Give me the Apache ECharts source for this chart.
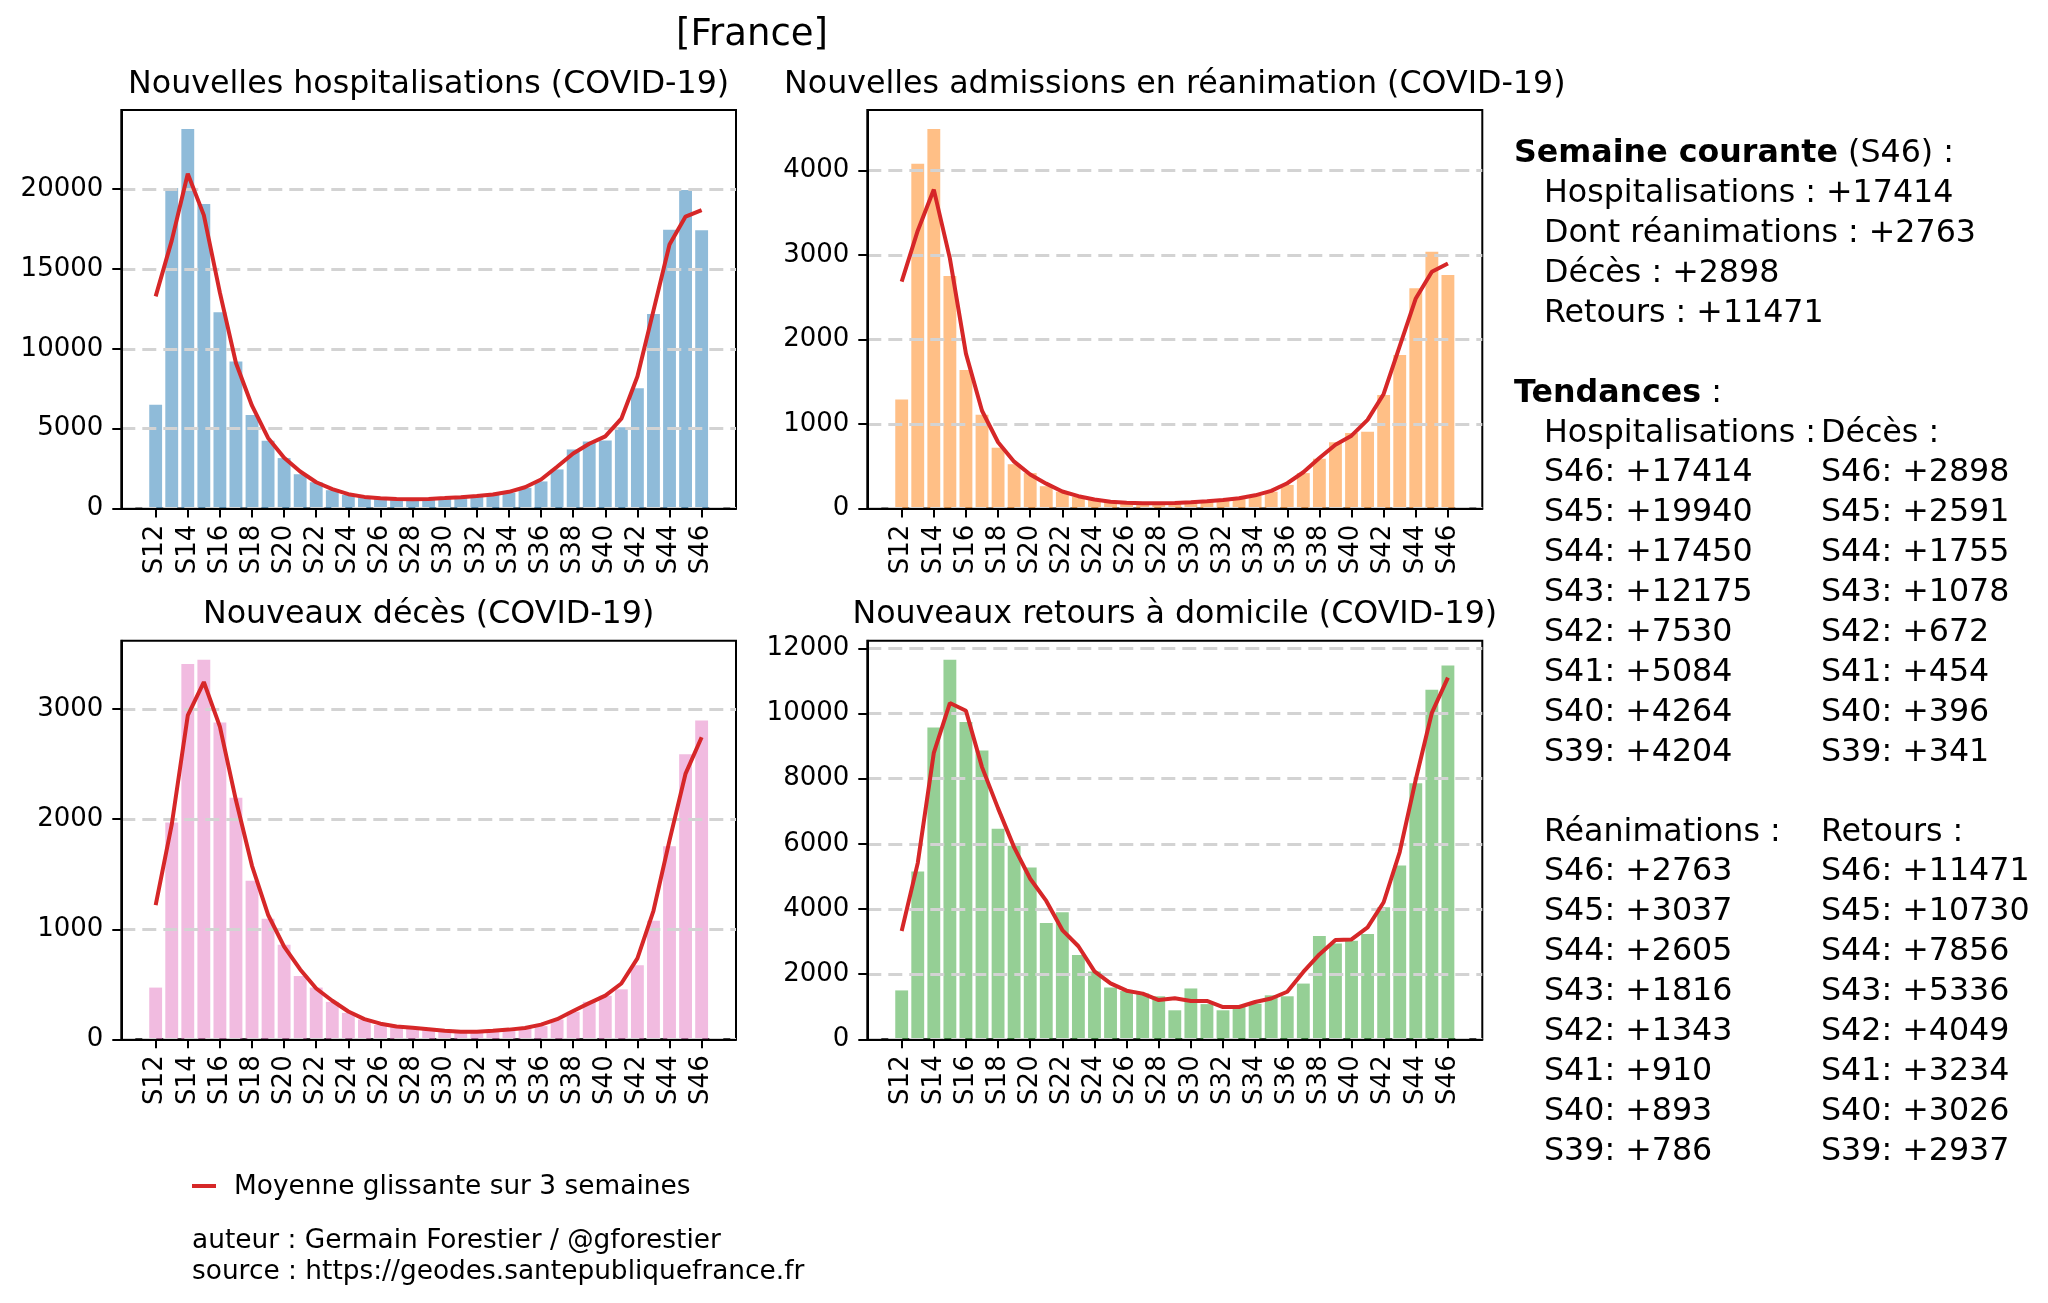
<!DOCTYPE html>
<html>
<head>
<meta charset="utf-8">
<script src="https://cdn.jsdelivr.net/npm/echarts@6/dist/echarts.min.js"></script>
<style>
html,body{margin:0;padding:0;background:#fff;}
#chart{width:2048px;height:1303px;}
</style>
</head>
<body>
<div id="chart"></div>
<script>
// ---- data ----
const weeks = ['S12','S13','S14','S15','S16','S17','S18','S19','S20','S21','S22','S23','S24','S25','S26','S27','S28','S29','S30','S31','S32','S33','S34','S35','S36','S37','S38','S39','S40','S41','S42','S43','S44','S45','S46'];
const xTickIndex = [0,2,4,6,8,10,12,14,16,18,20,22,24,26,28,30,32,34];

const hospBars = [6500,20050,23750,19050,12280,9200,5860,4250,3160,2150,1650,1150,850,700,650,600,560,600,650,720,780,850,1000,1300,1700,2450,3700,4204,4264,5084,7530,12175,17450,19940,17414];
const hospAvg  = [13275,16767,20950,18360,13510,9113,6437,4423,3187,2320,1650,1217,900,733,650,603,587,603,657,717,783,877,1050,1333,1817,2617,3451,4056,4517,5626,8263,12385,16522,18268,18677];

const reaBars = [1290,4080,4490,2750,1640,1110,720,525,420,265,200,140,100,80,65,60,60,65,75,85,100,120,150,200,280,420,590,786,893,910,1343,1816,2605,3037,2763];
const reaAvg  = [2685,3287,3773,2960,1833,1157,785,555,403,295,202,147,107,82,68,62,62,67,75,87,102,123,157,210,300,430,599,756,863,1049,1356,1921,2486,2802,2900];

const decesBars = [470,1970,3410,3450,2880,2195,1440,1095,860,575,470,340,240,180,130,115,105,95,75,65,65,75,90,100,120,180,250,341,396,454,672,1078,1755,2591,2898];
const decesAvg  = [1220,1950,2943,3247,2842,2172,1577,1132,843,635,462,350,253,183,142,117,105,92,78,68,68,77,88,103,133,183,257,329,397,507,735,1168,1808,2415,2745];

const retBars = [1500,5150,9570,11650,9740,8860,6460,5940,5270,3570,3900,2585,2080,1590,1480,1405,1320,890,1560,1080,890,995,1090,1350,1320,1710,3170,2937,3026,3234,4049,5336,7856,10730,11471];
const retAvg  = [3325,5407,8790,10320,10083,8353,7087,5890,4927,4247,3352,2855,2085,1717,1492,1402,1205,1257,1177,1177,988,992,1145,1253,1460,2067,2606,3044,3066,3436,4206,5747,7974,10019,11101];

const yTicksHosp   = [0,5000,10000,15000,20000];
const yTicksRea    = [0,1000,2000,3000,4000];
const yTicksDeces  = [0,1000,2000,3000];
const yTicksRet    = [0,2000,4000,6000,8000,10000,12000];

const panelTitles = ['Nouvelles hospitalisations (COVID-19)','Nouvelles admissions en réanimation (COVID-19)','Nouveaux décès (COVID-19)','Nouveaux retours à domicile (COVID-19)'];
const suptitle = '[France]';
const legendLabel = 'Moyenne glissante sur 3 semaines';
const footer = ['auteur : Germain Forestier / @gforestier','source : https://geodes.santepubliquefrance.fr'];

// ---- layout ----
const FONT = 'DejaVu Sans';
const cols = [{left:121.3,width:614.7},{left:867.3,width:615}];
const rows = [{top:110,height:398.6},{top:640.7,height:398.6}];
const XMIN = -2.14, XMAX = 36.14;

const panels = [
  {bars:hospBars, avg:hospAvg, ticks:yTicksHosp, color:'rgba(31,119,180,0.5)', c:0, r:0},
  {bars:reaBars, avg:reaAvg, ticks:yTicksRea, color:'rgba(255,127,14,0.5)', c:1, r:0},
  {bars:decesBars, avg:decesAvg, ticks:yTicksDeces, color:'rgba(227,119,194,0.5)', c:0, r:1},
  {bars:retBars, avg:retAvg, ticks:yTicksRet, color:'rgba(44,160,44,0.5)', c:1, r:1}
];

const grids=[], xAxes=[], yAxes=[], series=[], graphics=[];
panels.forEach((p,i)=>{
  const g = {left:cols[p.c].left, top:rows[p.r].top, width:cols[p.c].width, height:rows[p.r].height,
             show:true, borderColor:'#000', borderWidth:2, backgroundColor:'transparent', containLabel:false};
  grids.push(g);
  xAxes.push({type:'value', gridIndex:i, min:XMIN, max:XMAX, z:5,
    axisLine:{show:true, onZero:false, lineStyle:{color:'#000', width:2}},
    axisTick:{show:true, length:9, lineStyle:{color:'#000', width:2}, customValues:xTickIndex},
    axisLabel:{show:true, rotate:90, margin:16, color:'#000', fontSize:26, fontFamily:FONT,
      customValues:xTickIndex, formatter:(v)=>weeks[Math.round(v)]},
    splitLine:{show:false}});
  const ymax = Math.max(...p.bars)*1.05;
  yAxes.push({type:'value', gridIndex:i, min:0, max:ymax, z:3,
    axisLine:{show:true, onZero:false, lineStyle:{color:'#000', width:2}},
    axisTick:{show:true, length:9, lineStyle:{color:'#000', width:2}, customValues:p.ticks},
    axisLabel:{show:true, margin:18, color:'#000', fontSize:26, fontFamily:FONT, customValues:p.ticks,
      formatter:(v)=>String(Math.round(v))},
    splitLine:{show:true, lineStyle:{color:'#d3d3d3', width:3, type:[14,7]}}});
  const bw = cols[p.c].width*0.8/(XMAX-XMIN);
  series.push({type:'bar', name:'bars'+i, xAxisIndex:i, yAxisIndex:i, barWidth:bw, z:2,
    itemStyle:{color:p.color}, data:p.bars.map((v,k)=>[k,v]), silent:true, animation:false});
  series.push({type:'line', name:legendLabel, xAxisIndex:i, yAxisIndex:i, z:6, showSymbol:false, symbol:'none',
    lineStyle:{color:'#d62728', width:4}, itemStyle:{color:'#d62728'},
    data:p.avg.map((v,k)=>[k,v]), silent:true, animation:false});
  // subplot title
  graphics.push({type:'text', x:cols[p.c].left+cols[p.c].width/2, y:rows[p.r].top-25.5,
    style:{text:panelTitles[i], fill:'#000', fontSize:31.7, fontFamily:FONT, align:'center', verticalAlign:'middle'}});
});

// suptitle
graphics.push({type:'text', x:752, y:35, style:{text:suptitle, fill:'#000', fontSize:37, fontFamily:FONT, align:'center', verticalAlign:'middle'}});

// legend line + label
graphics.push({type:'line', shape:{x1:192, y1:1186, x2:216, y2:1186}, style:{stroke:'#d62728', lineWidth:4}});
graphics.push({type:'text', x:234, y:1187, style:{text:legendLabel, fill:'#000', fontSize:26.4, fontFamily:FONT, align:'left', verticalAlign:'middle'}});
footer.forEach((t,k)=>{
  graphics.push({type:'text', x:192, y:1241+k*31.5, style:{text:t, fill:'#000', fontSize:26.4, fontFamily:FONT, align:'left', verticalAlign:'middle'}});
});

// right text panel
const last = weeks.length-1;
const cur = weeks[last];
const RX0 = 1514, RX1 = 1544, RX2 = 1821, RY0 = 154, RDY = 39.9, RFS = 31.7;
function rtext(x,row,text,rich){
  graphics.push({type:'text', x:x, y:RY0+row*RDY, style:{text:text, fill:'#000', fontSize:RFS, fontFamily:FONT, align:'left', verticalAlign:'middle', rich:rich}});
}
const boldRich = {b:{fontWeight:'bold', fontSize:RFS, fontFamily:FONT, fill:'#000'}};
rtext(RX0,0,'{b|Semaine courante} ('+cur+') :',boldRich);
rtext(RX1,1,'Hospitalisations : +'+hospBars[last]);
rtext(RX1,2,'Dont réanimations : +'+reaBars[last]);
rtext(RX1,3,'Décès : +'+decesBars[last]);
rtext(RX1,4,'Retours : +'+retBars[last]);
rtext(RX0,6,'{b|Tendances} :',boldRich);
rtext(RX1,7,'Hospitalisations :');
rtext(RX2,7,'Décès :');
rtext(RX1,17,'Réanimations :');
rtext(RX2,17,'Retours :');
for(let k=0;k<8;k++){
  const idx = last-k;
  rtext(RX1,8+k, weeks[idx]+': +'+hospBars[idx]);
  rtext(RX2,8+k, weeks[idx]+': +'+decesBars[idx]);
  rtext(RX1,18+k, weeks[idx]+': +'+reaBars[idx]);
  rtext(RX2,18+k, weeks[idx]+': +'+retBars[idx]);
}

const chart = echarts.init(document.getElementById('chart'), null, {renderer:'canvas'});
chart.setOption({
  backgroundColor:'#fff',
  animation:false,
  textStyle:{fontFamily:FONT},
  grid:grids, xAxis:xAxes, yAxis:yAxes, series:series,
  graphic:{elements:graphics}
});
</script>
</body>
</html>
